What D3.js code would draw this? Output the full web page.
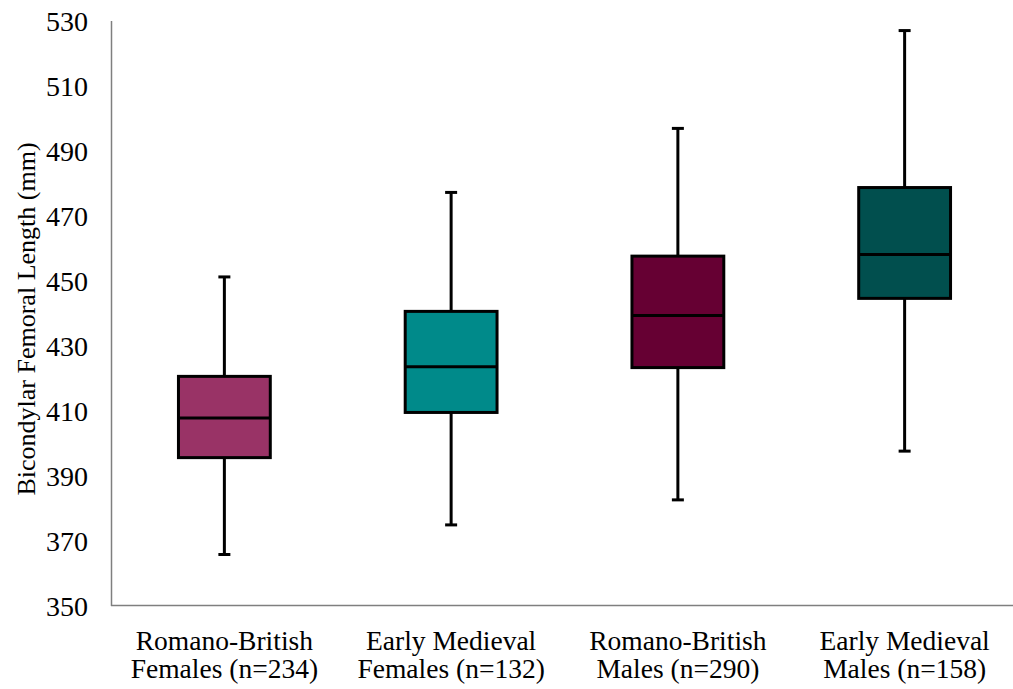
<!DOCTYPE html>
<html><head><meta charset="utf-8">
<script src="https://cdn.jsdelivr.net/npm/d3@7"></script>
<style>body{margin:0;background:#fff}svg{display:block}
svg text{font-family:"Liberation Serif","Times New Roman",Tinos,"DejaVu Serif",serif;}</style>
</head><body>
<svg id="c" width="1013" height="689"></svg>
<script>
const categories = [["Romano-British","Females (n=234)"],["Early Medieval","Females (n=132)"],["Romano-British","Males (n=290)"],["Early Medieval","Males (n=158)"]];
const whiskerLow = [365.7, 374.8, 382.5, 397.5];
const q1 = [395.5, 409.4, 423.2, 444.5];
const median = [407.7, 423.5, 439.2, 458.0];
const q3 = [420.5, 440.5, 457.5, 478.6];
const whiskerHigh = [451.1, 477.1, 496.8, 526.9];
const colors = ["#993366", "#008A8A", "#660033", "#014F4E"];
const yTicks = [350, 370, 390, 410, 430, 450, 470, 490, 510, 530];
const yTitle = "Bicondylar Femoral Length (mm)";

const svg = d3.select("#c");
const x = d3.scaleBand().domain(d3.range(4)).range([111, 1018]).paddingInner(0).paddingOuter(0);
const y = d3.scaleLinear().domain([350, 530]).range([605.5, 20.5]);
const bw = x.bandwidth() * 0.405;
const capW = 12;

// axes
const yAxis = svg.append("g").attr("transform", "translate(111,0)")
  .call(d3.axisLeft(y).tickValues(yTicks).tickSize(0).tickPadding(23));
yAxis.attr("font-family", null);
yAxis.select(".domain").attr("stroke", "#7f7f7f").attr("stroke-width", 1.5);
yAxis.selectAll("text").attr("font-size", 28).attr("fill", "#000").attr("dy", "0.34em");

svg.append("line").attr("x1", 111).attr("x2", 1013).attr("y1", y(350)).attr("y2", y(350))
  .attr("stroke", "#7f7f7f").attr("stroke-width", 1.5);

svg.append("text").attr("transform", `translate(35,319) rotate(-90)`)
  .attr("text-anchor", "middle").attr("font-size", 26).text(yTitle);

// boxes
const g = svg.append("g");
d3.range(4).forEach(i => {
  const cx = x(i) + x.bandwidth() / 2;
  g.append("line").attr("x1", cx).attr("x2", cx).attr("y1", y(whiskerHigh[i])).attr("y2", y(q3[i])).attr("stroke", "#000").attr("stroke-width", 3);
  g.append("line").attr("x1", cx).attr("x2", cx).attr("y1", y(q1[i])).attr("y2", y(whiskerLow[i])).attr("stroke", "#000").attr("stroke-width", 3);
  g.append("line").attr("x1", cx - capW/2).attr("x2", cx + capW/2).attr("y1", y(whiskerHigh[i])).attr("y2", y(whiskerHigh[i])).attr("stroke", "#000").attr("stroke-width", 3);
  g.append("line").attr("x1", cx - capW/2).attr("x2", cx + capW/2).attr("y1", y(whiskerLow[i])).attr("y2", y(whiskerLow[i])).attr("stroke", "#000").attr("stroke-width", 3);
  g.append("rect").attr("x", cx - bw/2).attr("width", bw).attr("y", y(q3[i])).attr("height", y(q1[i]) - y(q3[i]))
    .attr("fill", colors[i]).attr("stroke", "#000").attr("stroke-width", 3);
  g.append("line").attr("x1", cx - bw/2).attr("x2", cx + bw/2).attr("y1", y(median[i])).attr("y2", y(median[i])).attr("stroke", "#000").attr("stroke-width", 3);
  const t = svg.append("text").attr("text-anchor", "middle").attr("font-size", 27.5).attr("fill", "#000");
  t.append("tspan").attr("x", cx).attr("y", 650).text(categories[i][0]);
  t.append("tspan").attr("x", cx).attr("y", 678).text(categories[i][1]);
});
</script>
</body></html>
